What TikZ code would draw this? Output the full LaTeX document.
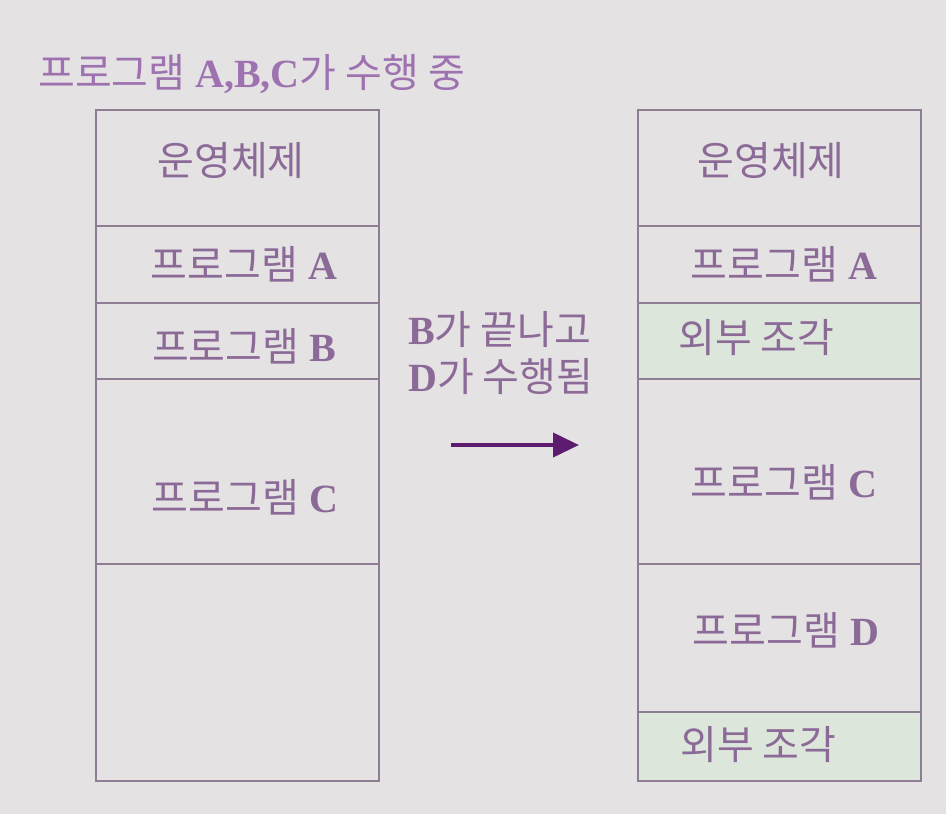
\documentclass[tikz,border=0pt]{standalone}
\usepackage{fontspec}
\setmainfont{Liberation Serif}
\newfontfamily\cjk{Noto Sans CJK KR}
\usetikzlibrary{arrows.meta}
\definecolor{bgc}{HTML}{E4E2E2}
\definecolor{linec}{HTML}{8E7E94}
\definecolor{txtc}{HTML}{8C6A98}
\definecolor{titc}{HTML}{9E72B0}
\definecolor{fragc}{HTML}{DCE6DA}
\definecolor{arrc}{HTML}{5E1C70}
\newcommand{\kor}[1]{{\cjk #1}}
\newcommand{\lat}[1]{{\bfseries #1}}
\tikzset{
  blk/.style={draw=linec, line width=2.6pt},
  frag/.style={blk, fill=fragc},
  lbl/.style={text=txtc, font=\fontsize{40}{46}\selectfont, inner sep=0pt, anchor=center},
  ttl/.style={text=titc, font=\fontsize{40}{46}\selectfont, inner sep=0pt, anchor=west},
}
\begin{document}
\begin{tikzpicture}[x=1pt,y=-1pt]
\fill[bgc] (0,0) rectangle (946,814);
\useasboundingbox (0,0) rectangle (946,814);
% title
\node[ttl] (title) at (38,74) {\kor{프로그램} \lat{A,B,C}\kor{가 수행 중}};
% left column
\draw[blk] (96,110) rectangle (379,226);
\draw[blk] (96,226) rectangle (379,303);
\draw[blk] (96,303) rectangle (379,379);
\draw[blk] (96,379) rectangle (379,564);
\draw[blk] (96,564) rectangle (379,781);
\node[lbl] (l1) at (231,161) {\kor{운영체제}};
\node[lbl] (l2) at (244,264) {\kor{프로그램} \lat{A}};
\node[lbl] (l3) at (244,346) {\kor{프로그램} \lat{B}};
\node[lbl] (l4) at (245,497) {\kor{프로그램} \lat{C}};
% right column
\draw[blk] (638,110) rectangle (921,226);
\draw[blk] (638,226) rectangle (921,303);
\draw[frag] (638,303) rectangle (921,379);
\draw[blk] (638,379) rectangle (921,564);
\draw[blk] (638,564) rectangle (921,712);
\draw[frag] (638,712) rectangle (921,781);
\node[lbl] (r1) at (771,161) {\kor{운영체제}};
\node[lbl] (r2) at (784,264) {\kor{프로그램} \lat{A}};
\node[lbl, anchor=west] (r3) at (678,338) {\kor{외부 조각}};
\node[lbl] (r4) at (784,482) {\kor{프로그램} \lat{C}};
\node[lbl] (r5) at (786,630) {\kor{프로그램} \lat{D}};
\node[lbl, anchor=west] (r6) at (680,745) {\kor{외부 조각}};
% middle
\node[lbl, anchor=west] (m1) at (408,329) {\lat{B}\kor{가 끝나고}};
\node[lbl, anchor=west] (m2) at (408,377) {\lat{D}\kor{가 수행됨}};
\coordinate (a1) at (451,445);
\coordinate (a2) at (579,445);
\draw[arrc, line width=4pt, -{Triangle[length=26pt,width=24pt]}] (a1) -- (a2);
\end{tikzpicture}
\end{document}
